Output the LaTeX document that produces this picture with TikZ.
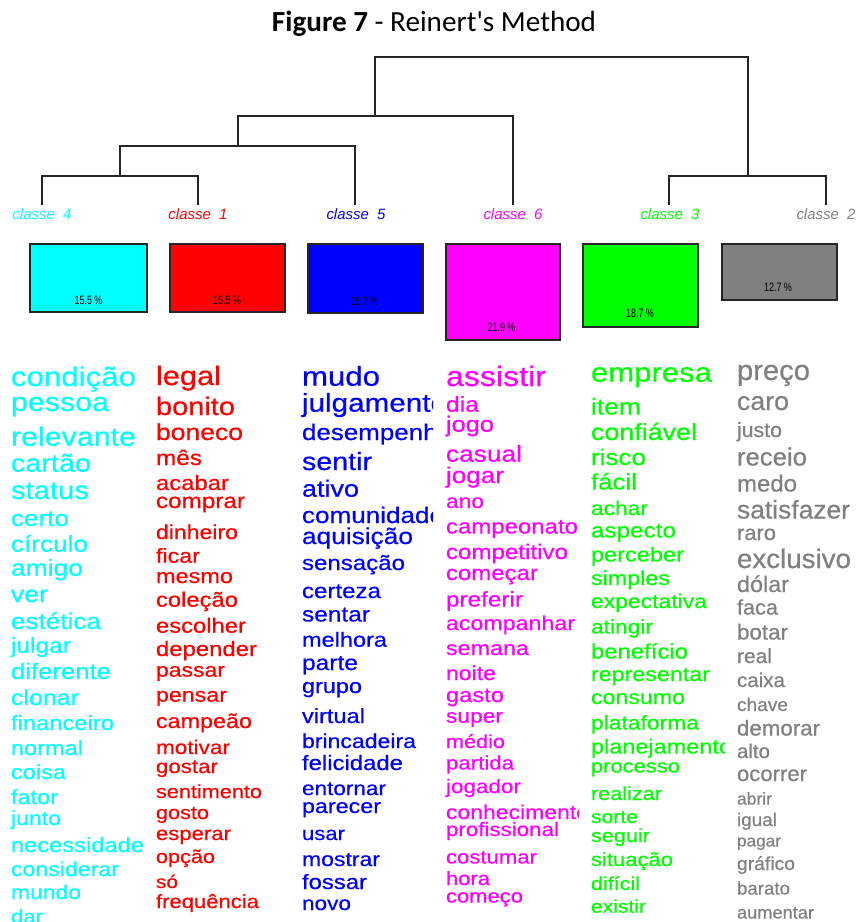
\documentclass[tikz,border=0pt]{standalone}
\usepackage{fontspec}
\setmainfont{Liberation Sans}
\newfontfamily\titlefont{Carlito}
\newfontfamily\wordfont[FakeBold=0.5]{Liberation Sans}
\usepackage{graphicx}
\definecolor{cgray}{RGB}{128,128,128}
\definecolor{ccyan}{RGB}{0,255,255}
\definecolor{cred}{RGB}{255,0,0}
\definecolor{cblue}{RGB}{0,0,255}
\definecolor{cmag}{RGB}{255,0,255}
\definecolor{cgreen}{RGB}{0,255,0}
\newcommand{\vf}{0.87}
\newcommand{\wrd}[4]{\node[anchor=base west,inner sep=0pt,outer sep=0pt] at (#1,#2) {\scalebox{1}[\vf]{\resizebox{#3pt}{!}{\wordfont #4}}};}
\tikzset{
  dendro/.style={draw=black!85,line width=1.2pt},
  clsbox/.style={draw=black!85,line width=1.3pt},
  clslabel/.style={anchor=base,inner sep=0pt},
  pct/.style={anchor=base,inner sep=0pt,text=black}
}
\begin{document}
\begin{tikzpicture}[x=1pt,y=-1pt]
\useasboundingbox (0,0) rectangle (858,922);
\clip (0,0) rectangle (858,922);
% title
\node[anchor=base,inner sep=0pt] (title) at (434,31) {\titlefont\resizebox{324pt}{!}{\textbf{Figure 7} - Reinert's Method}};
% dendrogram
\coordinate (l4) at (42,205);
\coordinate (l1) at (198,205);
\coordinate (l5) at (355,205);
\coordinate (l6) at (513,205);
\coordinate (l3) at (669,205);
\coordinate (l2) at (826,205);
\draw[dendro] (l4) -- (42,176) -- (198,176) -- (l1);
\draw[dendro] (120,176) -- (120,146) -- (355,146) -- (l5);
\draw[dendro] (238,146) -- (238,116) -- (513,116) -- (l6);
\draw[dendro] (l3) -- (669,176) -- (826,176) -- (l2);
\draw[dendro] (375,116) -- (375,57) -- (748,57) -- (748,176);
% class labels
\node[clslabel,text=ccyan] (c4) at (42,219) {\resizebox{59pt}{!}{\itshape classe\ \ 4}};
\node[clslabel,text=cred] (c1) at (198,219) {\resizebox{59pt}{!}{\itshape classe\ \ 1}};
\node[clslabel,text=cblue] (c5) at (356,219) {\resizebox{59pt}{!}{\itshape classe\ \ 5}};
\node[clslabel,text=cmag] (c6) at (513,219) {\resizebox{59pt}{!}{\itshape classe\ \ 6}};
\node[clslabel,text=cgreen] (c3) at (670,219) {\resizebox{59pt}{!}{\itshape classe\ \ 3}};
\node[clslabel,text=cgray] (c2) at (826,219) {\resizebox{59pt}{!}{\itshape classe\ \ 2}};
% boxes
\draw[clsbox,fill=ccyan] (30,244) rectangle (147,312);
\draw[clsbox,fill=cred] (170,244) rectangle (285,312);
\draw[clsbox,fill=cblue] (308,244) rectangle (423,313);
\draw[clsbox,fill=cmag] (446,244) rectangle (560,340);
\draw[clsbox,fill=cgreen] (583,244) rectangle (698,327);
\draw[clsbox,fill=cgray] (722,244) rectangle (837,300);
\node[pct] (p4) at (88.5,304) {\scalebox{1}[1.35]{\resizebox{28pt}{!}{15.5 \%}}};
\node[pct] (p1) at (227,304) {\scalebox{1}[1.35]{\resizebox{28pt}{!}{15.5 \%}}};
\node[pct] (p5) at (364.5,305) {\scalebox{1}[1.35]{\resizebox{28pt}{!}{15.7 \%}}};
\node[pct] (p6) at (501.5,331) {\scalebox{1}[1.35]{\resizebox{28pt}{!}{21.9 \%}}};
\node[pct] (p3) at (640,317) {\scalebox{1}[1.35]{\resizebox{28pt}{!}{18.7 \%}}};
\node[pct] (p2) at (778,291) {\scalebox{1}[1.35]{\resizebox{28pt}{!}{12.7 \%}}};
% column 1
\begin{scope}[color=ccyan]
\wrd{11}{386}{125}{condição}
\wrd{11}{411}{98}{pessoa}
\wrd{11}{445.7}{125}{relevante}
\wrd{11}{471.7}{80}{cartão}
\wrd{11}{499}{78}{status}
\wrd{11}{526}{58}{certo}
\wrd{11}{551.7}{77}{círculo}
\wrd{11}{575.7}{72}{amigo}
\wrd{11}{602}{37}{ver}
\wrd{11}{629}{90}{estética}
\wrd{11}{652.7}{60}{julgar}
\wrd{11}{679}{100}{diferente}
\wrd{11}{705}{68}{clonar}
\wrd{11}{730}{103}{financeiro}
\wrd{11}{755}{72}{normal}
\wrd{11}{779}{55}{coisa}
\wrd{11}{804}{47}{fator}
\wrd{11}{825}{50}{junto}
\wrd{11}{852}{133}{necessidade}
\wrd{11}{876}{108}{considerar}
\wrd{11}{899}{70}{mundo}
\wrd{11}{923}{32}{dar}
\end{scope}
% column 2
\begin{scope}[color=cred]
\wrd{156}{385}{65}{legal}
\wrd{156}{415}{79}{bonito}
\wrd{156}{440}{87}{boneco}
\wrd{156}{465}{46}{mês}
\wrd{156}{490}{73}{acabar}
\wrd{156}{508}{89}{comprar}
\wrd{156}{539}{82}{dinheiro}
\wrd{156}{562.7}{44}{ficar}
\wrd{156}{583}{77}{mesmo}
\wrd{156}{606.7}{82}{coleção}
\wrd{156}{632.7}{90}{escolher}
\wrd{156}{656}{101}{depender}
\wrd{156}{676.7}{69}{passar}
\wrd{156}{701.7}{71}{pensar}
\wrd{156}{728}{96}{campeão}
\wrd{156}{754}{74}{motivar}
\wrd{156}{773}{62}{gostar}
\wrd{156}{798}{106}{sentimento}
\wrd{156}{819}{53}{gosto}
\wrd{156}{840}{75}{esperar}
\wrd{156}{863}{59}{opção}
\wrd{156}{888}{22}{só}
\wrd{156}{908}{103}{frequência}
\end{scope}
% column 3
\begin{scope}
\clip (295,340) rectangle (433,922);
\begin{scope}[color=cblue]
\wrd{302}{385.7}{78}{mudo}
\wrd{302}{411.7}{145}{julgamento}
\wrd{302}{440}{150}{desempenho}
\wrd{302}{470}{70}{sentir}
\wrd{302}{496.7}{57}{ativo}
\wrd{302}{523}{142}{comunidade}
\wrd{302}{544}{111}{aquisição}
\wrd{302}{570}{103}{sensação}
\wrd{302}{598}{79}{certeza}
\wrd{302}{621.5}{68}{sentar}
\wrd{302}{646.7}{85}{melhora}
\wrd{302}{670}{56}{parte}
\wrd{302}{693}{60}{grupo}
\wrd{302}{723}{63}{virtual}
\wrd{302}{748}{114}{brincadeira}
\wrd{302}{770}{101}{felicidade}
\wrd{302}{795}{84}{entornar}
\wrd{302}{813}{79}{parecer}
\wrd{302}{840}{43}{usar}
\wrd{302}{866}{78}{mostrar}
\wrd{302}{889}{65}{fossar}
\wrd{302}{910}{49}{novo}
\end{scope}
\end{scope}
% column 4
\begin{scope}
\clip (440,340) rectangle (579,922);
\begin{scope}[color=cmag]
\wrd{446}{386}{100}{assistir}
\wrd{446}{411.7}{33}{dia}
\wrd{446}{431.7}{48}{jogo}
\wrd{446}{461.7}{76}{casual}
\wrd{446}{483}{58}{jogar}
\wrd{446}{508}{38}{ano}
\wrd{446}{533.5}{132}{campeonato}
\wrd{446}{559}{122}{competitivo}
\wrd{446}{580}{92}{começar}
\wrd{446}{606.5}{77}{preferir}
\wrd{446}{630}{129}{acompanhar}
\wrd{446}{655}{83}{semana}
\wrd{446}{680}{50}{noite}
\wrd{446}{702}{58}{gasto}
\wrd{446}{722.7}{57}{super}
\wrd{446}{748}{59}{médio}
\wrd{446}{769.5}{68}{partida}
\wrd{446}{793}{75}{jogador}
\wrd{446}{819}{143}{conhecimento}
\wrd{446}{836}{113}{profissional}
\wrd{446}{863.5}{91}{costumar}
\wrd{446}{885}{44}{hora}
\wrd{446}{902.5}{77}{começo}
\end{scope}
\end{scope}
% column 5
\begin{scope}
\clip (585,340) rectangle (725,922);
\begin{scope}[color=cgreen]
\wrd{591}{381.7}{121}{empresa}
\wrd{591}{414.5}{50}{item}
\wrd{591}{440}{106}{confiável}
\wrd{591}{465}{55}{risco}
\wrd{591}{489.5}{46}{fácil}
\wrd{591}{515}{57}{achar}
\wrd{591}{537.5}{85}{aspecto}
\wrd{591}{561.5}{93}{perceber}
\wrd{591}{585}{79}{simples}
\wrd{591}{608}{116}{expectativa}
\wrd{591}{633.5}{62}{atingir}
\wrd{591}{658.5}{97}{benefício}
\wrd{591}{681}{119}{representar}
\wrd{591}{704}{94}{consumo}
\wrd{591}{729.5}{108}{plataforma}
\wrd{591}{753.5}{141}{planejamento}
\wrd{591}{772.5}{89}{processo}
\wrd{591}{800}{71}{realizar}
\wrd{591}{823}{47}{sorte}
\wrd{591}{842}{59}{seguir}
\wrd{591}{866}{82}{situação}
\wrd{591}{890}{49}{difícil}
\wrd{591}{912.7}{55}{existir}
\end{scope}
\end{scope}
% column 6
\begin{scope}[color=cgray]
\renewcommand{\vf}{0.97}
\wrd{737}{380}{73}{preço}
\wrd{737}{410}{52}{caro}
\wrd{737}{437}{45}{justo}
\wrd{737}{465.5}{70}{receio}
\wrd{737}{491.5}{60}{medo}
\wrd{737}{518.5}{113}{satisfazer}
\wrd{737}{540}{39}{raro}
\wrd{737}{568}{114}{exclusivo}
\wrd{737}{592}{52}{dólar}
\wrd{737}{614.5}{41}{faca}
\wrd{737}{639.5}{51}{botar}
\wrd{737}{663}{35}{real}
\wrd{737}{687}{48}{caixa}
\wrd{737}{711}{51}{chave}
\wrd{737}{735.5}{83}{demorar}
\wrd{737}{758}{33}{alto}
\wrd{737}{781}{70}{ocorrer}
\wrd{737}{804.5}{35}{abrir}
\wrd{737}{826}{40}{igual}
\wrd{737}{846.5}{44}{pagar}
\wrd{737}{870}{58}{gráfico}
\wrd{737}{894.5}{53}{barato}
\wrd{737}{918.5}{77}{aumentar}
\end{scope}
\end{tikzpicture}
\end{document}
